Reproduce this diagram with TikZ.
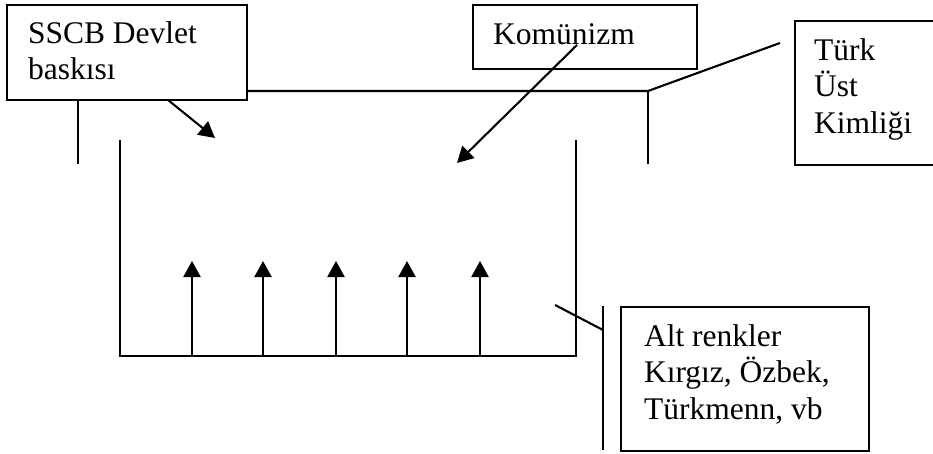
\documentclass[tikz,border=0pt]{standalone}
\usepackage{fontspec}
\setmainfont{Liberation Serif}
\usetikzlibrary{arrows.meta}
\begin{document}
\begin{tikzpicture}[x=1pt,y=-1pt,
  line width=2.1pt,
  box/.style={draw, rectangle, inner sep=0pt, anchor=north west},
  txt/.style={inner sep=0pt, anchor=north west, align=left,
    font=\fontsize{31.5}{36.5}\selectfont},
  arr/.style={-{Triangle[width=17pt,length=16pt]}}]
\useasboundingbox (0,0) rectangle (933,454);
% boxes
\node[box, minimum width=240pt, minimum height=95pt] (sscb) at (6,4) {};
\node[box, minimum width=224pt, minimum height=64pt] (kom) at (472,4) {};
\node[box, minimum width=145pt, minimum height=144pt] (turk) at (794,20) {};
\node[box, minimum width=248pt, minimum height=144pt] (alt) at (620,306) {};
% texts
\node[txt] (sscbt) at (27,12) {\rule{0pt}{30pt}SSCB Devlet\\baskısı};
\node[txt] (komt) at (492,13) {\rule{0pt}{30pt}Komünizm};
\node[txt] (turkt) at (813,29) {\rule{0pt}{30pt}Türk\\Üst\\Kimliği};
\node[txt] (altt) at (643,315) {\rule{0pt}{30pt}Alt renkler\\Kırgız, Özbek,\\Türkmenn, vb};
% outer frame
\coordinate (tr) at (648,91);
\coordinate (trk) at (780,43);
\coordinate (lb) at (78,164);
\coordinate (rb) at (648,164);
\draw (sscb.east |- tr) -- (tr) -- (trk);
\draw (tr) -- (rb);
\draw (sscb.south -| lb) -- (lb);
% inner U
\coordinate (ul) at (120,140);
\coordinate (ur) at (576,140);
\coordinate (bl) at (120,356);
\coordinate (br) at (576,356);
\draw (ul) -- (bl) -- (br) -- (ur);
% upward arrows
\foreach \i/\xx in {1/192,2/263,3/336,4/407,5/480}{
  \coordinate (a\i) at (\xx,356);
  \coordinate (t\i) at (\xx,261);
  \draw[arr] (a\i) -- (t\i);
}
% diagonal arrows
\coordinate (s1) at (168,100);
\coordinate (s2) at (215,138);
\draw[arr] (s1) -- (s2);
\coordinate (k1) at (577,45);
\coordinate (k2) at (457,163);
\draw[arr] (k1) -- (k2);
% alt connector
\coordinate (p1) at (555,305);
\coordinate (p2) at (603,330);
\coordinate (v1) at (603,306);
\coordinate (v2) at (603,450);
\draw (p1) -- (p2);
\draw (v1) -- (v2);
\end{tikzpicture}
\end{document}
